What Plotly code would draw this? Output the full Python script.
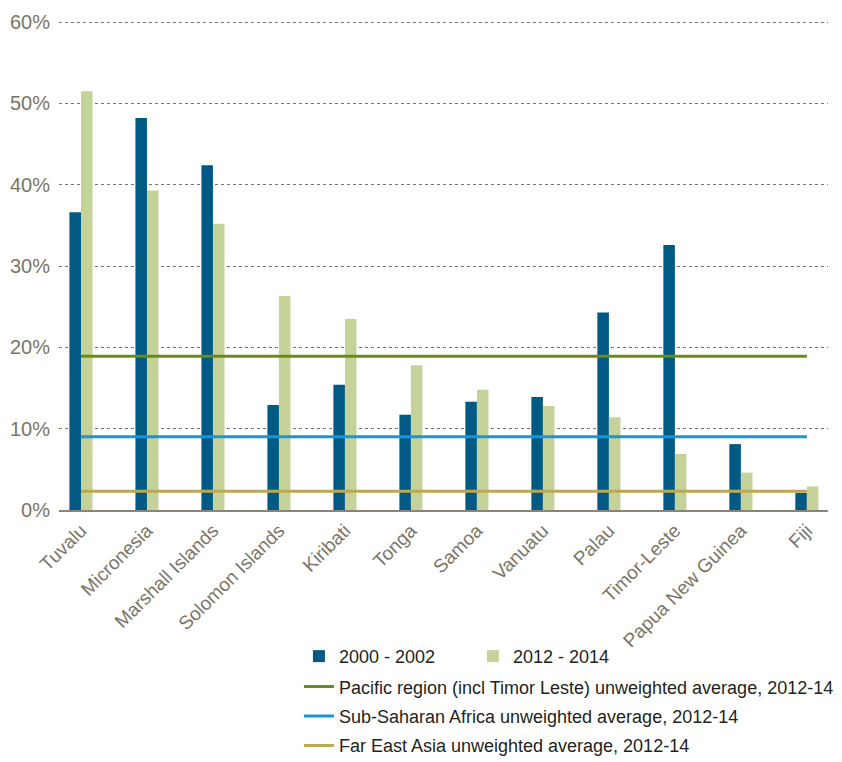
import plotly.graph_objects as go

categories = ["Tuvalu", "Micronesia", "Marshall Islands", "Solomon Islands", "Kiribati",
              "Tonga", "Samoa", "Vanuatu", "Palau", "Timor-Leste", "Papua New Guinea", "Fiji"]
values_2000_2002 = [36.6, 48.2, 42.4, 12.9, 15.4, 11.7, 13.3, 13.9, 24.3, 32.6, 8.1, 2.1]
values_2012_2014 = [51.5, 39.3, 35.2, 26.3, 23.5, 17.8, 14.8, 12.8, 11.4, 6.9, 4.6, 2.9]
pacific_avg = 18.9
ssa_avg = 9.0
fea_avg = 2.3
y_ticks = [0, 10, 20, 30, 40, 50, 60]
y_tick_labels = ["0%", "10%", "20%", "30%", "40%", "50%", "60%"]

FONT = "Liberation Sans Narrow, Arial Narrow, Liberation Sans, sans-serif"
TICK_COLOR = "#7b7566"

fig = go.Figure()
fig.add_trace(go.Bar(x=categories, y=values_2000_2002, name="2000 - 2002",
                     marker=dict(color="#005a84", line=dict(width=0)), legend="legend"))
fig.add_trace(go.Bar(x=categories, y=values_2012_2014, name="2012 - 2014",
                     marker=dict(color="#c5d39a", line=dict(width=0)), legend="legend"))
fig.add_trace(go.Scatter(x=categories, y=[pacific_avg] * len(categories), mode="lines",
                         name="Pacific region (incl Timor Leste) unweighted average, 2012-14",
                         line=dict(color="#6a8b1c", width=3), legend="legend2", legendgroup="g1"))
fig.add_trace(go.Scatter(x=categories, y=[ssa_avg] * len(categories), mode="lines",
                         name="Sub-Saharan Africa unweighted average, 2012-14",
                         line=dict(color="#1a96d6", width=3), legend="legend2", legendgroup="g2"))
fig.add_trace(go.Scatter(x=categories, y=[fea_avg] * len(categories), mode="lines",
                         name="Far East Asia unweighted average, 2012-14",
                         line=dict(color="#baa953", width=3), legend="legend2", legendgroup="g3"))

fig.update_layout(
    width=842, height=762,
    margin=dict(l=51, r=22, t=10, b=260, autoexpand=False),
    paper_bgcolor="white", plot_bgcolor="white",
    barmode="group", bargap=0.65, bargroupgap=0,
    font=dict(family=FONT, size=18, color="#231f20"),
    xaxis=dict(type="category", range=[-0.333, 11.32], tickangle=-45,
               tickfont=dict(family=FONT, size=19, color=TICK_COLOR),
               showgrid=False, showline=True, linecolor="#8a8478", linewidth=2,
               ticks=""),
    yaxis=dict(range=[0, 60.5], tickmode="array", tickvals=y_ticks, ticktext=y_tick_labels,
               tickfont=dict(family=FONT, size=20, color=TICK_COLOR),
               showgrid=True, gridcolor="#7a7468", griddash="dot", gridwidth=1.3,
               zeroline=False, showline=False, ticks="", ticklabelstandoff=8),
    legend=dict(orientation="h", x=0.312, y=-0.26, xanchor="left", yanchor="top",
                font=dict(family=FONT, size=18, color="#231f20"),
                entrywidth=129, entrywidthmode="pixels",
                bgcolor="rgba(0,0,0,0)"),
    legend2=dict(orientation="v", x=0.312, y=-0.322, xanchor="left", yanchor="top",
                 font=dict(family=FONT, size=18, color="#231f20"),
                 tracegroupgap=3, bgcolor="rgba(0,0,0,0)"),
)

fig.write_html("out.html")
